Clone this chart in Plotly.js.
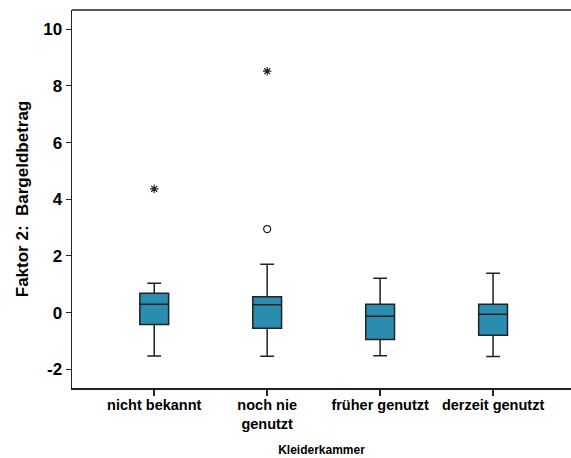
<!DOCTYPE html>
<html>
<head>
<meta charset="utf-8">
<script src="https://cdn.plot.ly/plotly-3.0.1.min.js"></script>
<style>html,body{margin:0;padding:0;background:#fff;}#chart{width:571px;height:458px;}</style>
</head>
<body>
<div id="chart"></div>
<script>
const categories = ["nicht bekannt", "noch nie<br>genutzt", "früher genutzt", "derzeit genutzt"];
const lowerWhisker = [-1.53, -1.54, -1.52, -1.55];
const q1 = [-0.42, -0.55, -0.95, -0.80];
const median = [0.30, 0.28, -0.13, -0.06];
const q3 = [0.68, 0.56, 0.30, 0.30];
const upperWhisker = [1.04, 1.71, 1.21, 1.39];
// outliers
const extremeCats = ["nicht bekannt", "noch nie<br>genutzt"];
const extremeVals = [4.37, 8.52];
const outlierCats = ["noch nie<br>genutzt"];
const outlierVals = [2.95];
const yTickVals = [-2, 0, 2, 4, 6, 8, 10];
const yTickText = ["-2", "0", "2", "4", "6", "8", "10"];

const font = "Liberation Sans, Arial, sans-serif";

const traces = [
  {
    type: "box",
    x: categories,
    q1: q1, median: median, q3: q3,
    lowerfence: lowerWhisker, upperfence: upperWhisker,
    fillcolor: "#2a8cae",
    line: {color: "#222", width: 1.5},
    width: 0.255,
    whiskerwidth: 0.48,
    boxpoints: false,
    hoverinfo: "skip",
    showlegend: false
  },
  {
    type: "scatter", mode: "markers",
    x: extremeCats, y: extremeVals,
    marker: {symbol: "asterisk-open", size: 7, color: "#222", line: {color: "#222", width: 1.2}},
    showlegend: false
  },
  {
    type: "scatter", mode: "markers",
    x: outlierCats, y: outlierVals,
    marker: {symbol: "circle-open", size: 7, color: "#222", line: {color: "#222", width: 1.3}},
    showlegend: false
  }
];

const layout = {
  width: 571, height: 458,
  margin: {l: 72, r: 0, t: 10, b: 70},
  paper_bgcolor: "#fff", plot_bgcolor: "#fff",
  font: {family: font, color: "#000"},
  showlegend: false,
  xaxis: {
    type: "category",
    categoryorder: "array", categoryarray: categories,
    range: [-0.728, 3.69],
    showgrid: false, zeroline: false,
    showline: true, linecolor: "#222", linewidth: 1.5,
    ticks: "outside", ticklen: 6, tickcolor: "#222", tickwidth: 1.5,
    ticklabelstandoff: -3,
    tickfont: {family: font, size: 14.5, color: "#000", weight: "bold"},
    title: {text: "Kleiderkammer", font: {family: font, size: 12, color: "#000", weight: "bold"}, standoff: 15}
  },
  yaxis: {
    range: [-2.66, 10.68],
    tickvals: yTickVals, ticktext: yTickText,
    showgrid: false, zeroline: false,
    showline: true, linecolor: "#222", linewidth: 1.5,
    ticks: "outside", ticklen: 5, tickcolor: "#222", tickwidth: 1,
    tickfont: {family: font, size: 17, color: "#000", weight: "bold"},
    title: {text: "Faktor 2:\u00a0 Bargeldbetrag", font: {family: font, size: 17, color: "#000", weight: "bold"}, standoff: 10}
  },
  shapes: [
    {type: "line", xref: "paper", yref: "paper", x0: 0, x1: 1, y0: 1, y1: 1, line: {color: "#222", width: 1.5}}
  ]
};

Plotly.newPlot("chart", traces, layout, {displayModeBar: false, staticPlot: true});
</script>
</body>
</html>
